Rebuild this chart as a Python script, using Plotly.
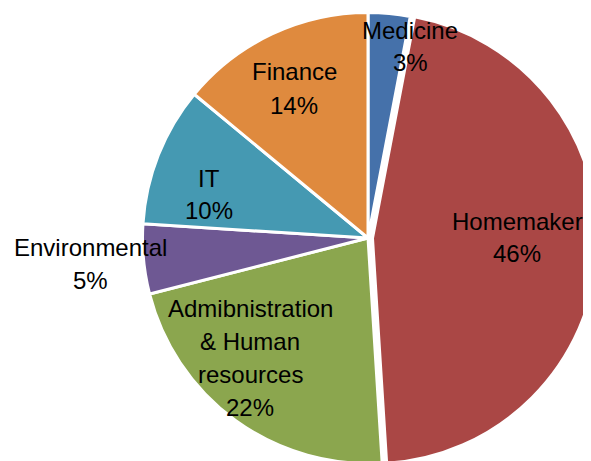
import plotly.graph_objects as go

categories = ["Medicine", "Homemaker", "Admibnistration\n& Human\nresources", "Environmental", "IT", "Finance"]
values = [3, 46, 22, 5, 10, 14]
colors = ["#4571AA", "#AA4745", "#8BA64E", "#6E5893", "#4599B2", "#DF8A3E"]
pulls = [0, 0.02, 0, 0, 0, 0]

# label anchor positions (pixel centres of the label blocks, page coords)
label_x = [410, 517, 250, 91, 209, 294]
label_y = [30, 221, 308, 247, 178, 72]
LINE = 33
OFF = 8  # page body margin

W, H = 591, 461

fig = go.Figure(go.Pie(
    labels=[c.replace("\n", " ") for c in categories],
    values=values,
    sort=False,
    direction="clockwise",
    rotation=0,
    pull=pulls,
    marker=dict(colors=colors, line=dict(color="white", width=3)),
    textinfo="none",
    hoverinfo="label+percent",
    domain=dict(x=[130 / W, 590 / W], y=[1 - 460 / H, 1.0]),
    showlegend=False,
))

annotations = []
for cat, v, lx, ly in zip(categories, values, label_x, label_y):
    lines = cat.split("\n") + [f"{v}%"]
    for i, t in enumerate(lines):
        annotations.append(dict(
            x=(lx - OFF) / W, y=1 - (ly - OFF + i * LINE) / H, xref="paper", yref="paper",
            text=t, showarrow=False, xanchor="center", yanchor="middle",
            font=dict(family="Liberation Sans, Arial, sans-serif", size=24, color="black"),
        ))

fig.update_layout(
    width=W, height=H,
    margin=dict(l=0, r=0, t=0, b=0),
    paper_bgcolor="white", plot_bgcolor="white",
    annotations=annotations,
)

fig.write_html("out.html")
